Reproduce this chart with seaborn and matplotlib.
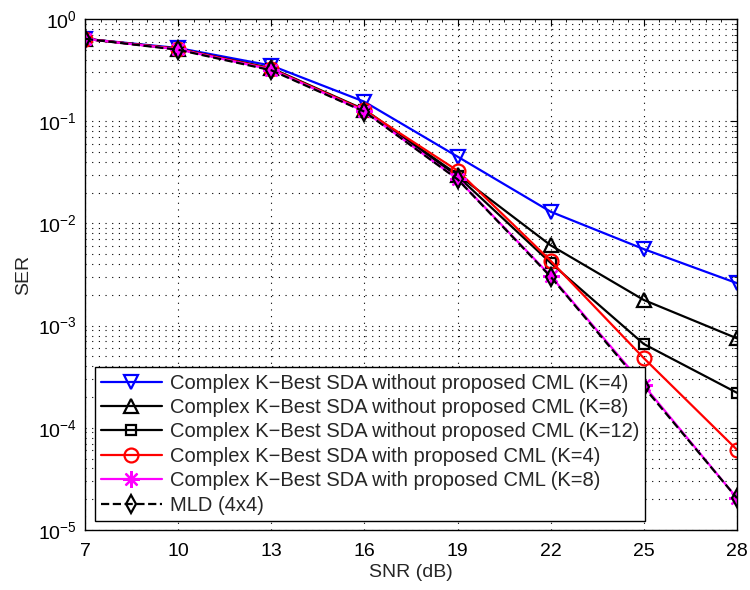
import numpy as np
import pandas as pd
import matplotlib
matplotlib.use("Agg")
import matplotlib.pyplot as plt
import seaborn as sns
from matplotlib.ticker import LogLocator, FixedLocator, MultipleLocator, NullFormatter

snr = [7, 10, 13, 16, 19, 22, 25, 28]
ser_k4_wo = [0.64, 0.52, 0.35, 0.155, 0.045, 0.0130, 0.0056, 0.0026]
ser_k8_wo = [0.64, 0.51, 0.33, 0.130, 0.030, 0.0061, 0.00178, 0.00075]
ser_k12_wo = [0.64, 0.51, 0.325, 0.128, 0.029, 0.0041, 0.00066, 0.00022]
ser_k4_cml = [0.64, 0.51, 0.325, 0.128, 0.0328, 0.0043, 0.00048, 0.000061]
ser_k8_cml = [0.64, 0.505, 0.32, 0.125, 0.0272, 0.00306, 0.00026, 0.0000205]
ser_mld = [0.64, 0.50, 0.315, 0.124, 0.0270, 0.00300, 0.00025, 0.0000205]

labels = [
    "Complex K\u2212Best SDA without proposed CML (K=4)",
    "Complex K\u2212Best SDA without proposed CML (K=8)",
    "Complex K\u2212Best SDA without proposed CML (K=12)",
    "Complex K\u2212Best SDA with proposed CML (K=4)",
    "Complex K\u2212Best SDA with proposed CML (K=8)",
    "MLD (4x4)",
]
series = [ser_k4_wo, ser_k8_wo, ser_k12_wo, ser_k4_cml, ser_k8_cml, ser_mld]
colors = ["#0000ff", "#000000", "#000000", "#ff0000", "#ff00ff", "#000000"]
markers = ["v", "^", "s", "o", (8, 2, 0), "d"]
msizes = [10, 10, 7, 10, 12, 9]
styles = ["-", "-", "-", "-", "-", "--"]

sns.set_style("white")
plt.rcParams["font.family"] = ["Liberation Sans", "DejaVu Sans"]
plt.rcParams["mathtext.fontset"] = "custom"
plt.rcParams["mathtext.rm"] = "Liberation Sans"

fig = plt.figure(figsize=(7.5, 5.9), dpi=100)
ax = fig.add_axes([85/750, 1-530/590, (737-85)/750, (530-19)/590])

handles = []
for lab, ys, c, m, ms, ls in zip(labels, series, colors, markers, msizes, styles):
    df = pd.DataFrame({"snr": snr, "ser": ys})
    sns.lineplot(data=df, x="snr", y="ser", ax=ax, color=c, linestyle=ls,
                 marker=m, markersize=ms, markerfacecolor="none",
                 markeredgecolor=c, markeredgewidth=1.6, linewidth=1.6, label=lab,
                 legend=False)
    handles.append(ax.lines[-1])

ax.set_yscale("log")
ax.set_xlim(7, 28)
ax.set_ylim(1e-5, 1)
ax.xaxis.set_major_locator(FixedLocator(snr))
ax.xaxis.set_minor_locator(MultipleLocator(0.5))
ax.yaxis.set_major_locator(LogLocator(base=10, numticks=10))
ax.yaxis.set_minor_locator(LogLocator(base=10, subs=np.arange(2, 10), numticks=20))
ax.yaxis.set_minor_formatter(NullFormatter())

ax.grid(True, which="major", axis="both", color="black", linestyle=(0, (1, 5)), linewidth=0.8)
ax.grid(True, which="minor", axis="y", color="black", linestyle=(0, (1, 5)), linewidth=0.8)
ax.tick_params(which="both", direction="in", top=True, right=True, labelsize=14, colors="black")
ax.tick_params(which="major", length=5)
ax.tick_params(axis="x", which="major", pad=9)
ax.tick_params(axis="y", which="major", pad=6)
ax.tick_params(which="minor", length=2.5)
for s in ax.spines.values():
    s.set_color("black")
    s.set_linewidth(1)

ax.set_xlabel("SNR (dB)", fontsize=14, labelpad=3)
ax.set_ylabel("SER", fontsize=14, labelpad=4)

leg = ax.legend(handles=handles, labels=labels, loc="lower left",
                bbox_to_anchor=(0.0153, 0.0176), fontsize=14.5, frameon=True,
                fancybox=False, edgecolor="black", framealpha=1,
                handlelength=3.0, borderpad=0.31, labelspacing=0.27,
                handletextpad=0.4, borderaxespad=0)
leg.get_frame().set_linewidth(1)

fig.savefig("out.png", dpi=100)
